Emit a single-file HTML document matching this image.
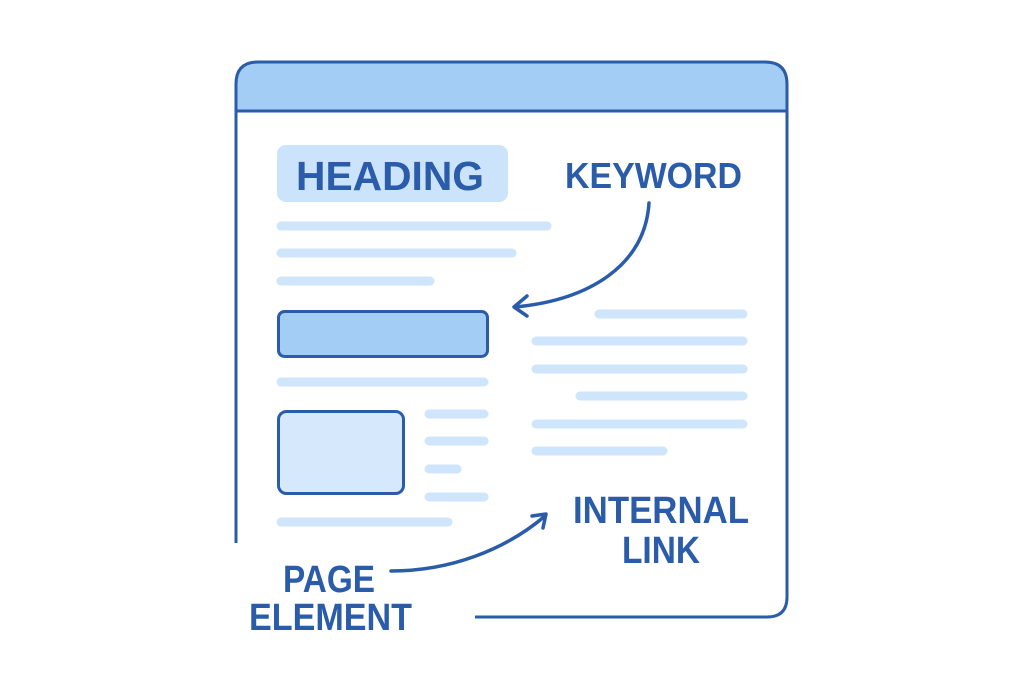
<!DOCTYPE html>
<html><head><style>
html,body{margin:0;padding:0;background:#fff;}
svg{display:block;}
text{font-family:"Liberation Sans",sans-serif;font-weight:bold;fill:#2a5caa;}
</style></head><body>
<svg width="1024" height="683" viewBox="0 0 1024 683">
<path d="M236,543 V84 Q236,62 258,62 H765 Q787,62 787,84 V111 H236" fill="#a3cdf5" stroke="none"/>
<path d="M236,543 V84 Q236,62 258,62 H765 Q787,62 787,84 V597 Q787,617 767,617 H475" fill="none" stroke="#2a5caa" stroke-width="3"/>
<line x1="236" y1="111" x2="787" y2="111" stroke="#2a5caa" stroke-width="3"/>
<rect x="277" y="145" width="231" height="57" rx="9" fill="#cce4fb"/>
<text x="296" y="190" font-size="41" textLength="188" lengthAdjust="spacingAndGlyphs">HEADING</text>
<text x="565" y="188" font-size="36" textLength="177" lengthAdjust="spacingAndGlyphs">KEYWORD</text>
<g stroke="#cfe5fb" stroke-width="9" stroke-linecap="round">
<line x1="281" y1="226" x2="547" y2="226"/>
<line x1="281" y1="253" x2="512" y2="253"/>
<line x1="281" y1="281" x2="430" y2="281"/>
<line x1="281" y1="382" x2="484" y2="382"/>
<line x1="429" y1="414" x2="484" y2="414"/>
<line x1="429" y1="441" x2="484" y2="441"/>
<line x1="429" y1="469" x2="457" y2="469"/>
<line x1="429" y1="497" x2="484" y2="497"/>
<line x1="281" y1="522" x2="448" y2="522"/>
<line x1="599" y1="314" x2="743" y2="314"/>
<line x1="536" y1="341" x2="743" y2="341"/>
<line x1="536" y1="369" x2="743" y2="369"/>
<line x1="580" y1="396" x2="743" y2="396"/>
<line x1="536" y1="424" x2="743" y2="424"/>
<line x1="536" y1="451" x2="663" y2="451"/>
</g>
<rect x="278.5" y="311.5" width="209" height="45" rx="6" fill="#a3cdf5" stroke="#2a5caa" stroke-width="3"/>
<rect x="278.5" y="411.5" width="125" height="82" rx="8" fill="#d6e9fc" stroke="#2a5caa" stroke-width="3"/>
<g fill="none" stroke="#2a5caa" stroke-width="3.5" stroke-linecap="round" stroke-linejoin="round">
<path d="M649,203 C645,265 590,300 515,307"/>
<path d="M527,296 L514,307 L527,316"/>
<path d="M391,571 C450,571 505,550 545,516"/>
<path d="M532,516 L546,514 L543,528"/>
</g>
<text x="573" y="523" font-size="38" textLength="176" lengthAdjust="spacingAndGlyphs">INTERNAL</text>
<text x="622" y="563" font-size="38" textLength="78" lengthAdjust="spacingAndGlyphs">LINK</text>
<text x="283" y="592" font-size="38" textLength="92" lengthAdjust="spacingAndGlyphs">PAGE</text>
<text x="249" y="630" font-size="38" textLength="163" lengthAdjust="spacingAndGlyphs">ELEMENT</text>
</svg>
</body></html>
